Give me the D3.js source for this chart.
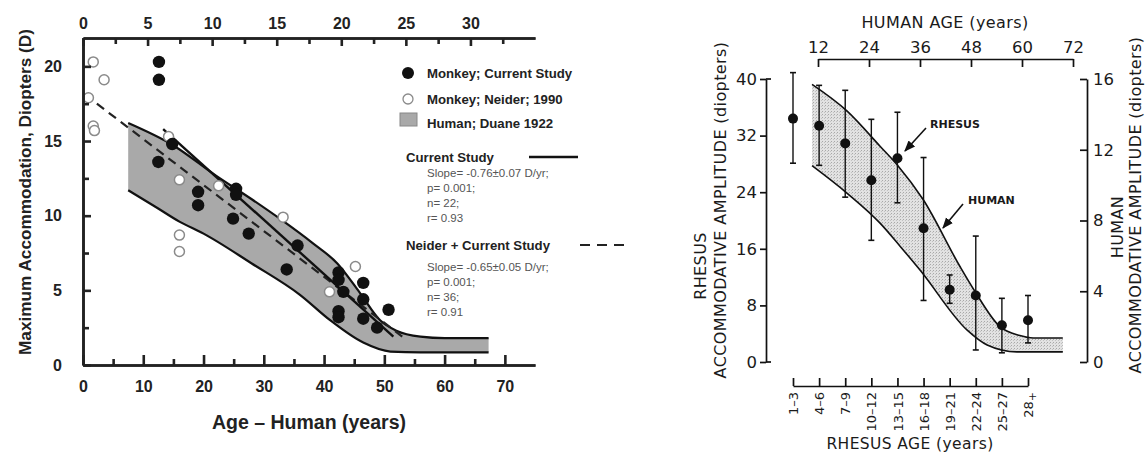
<!DOCTYPE html>
<html>
<head>
<meta charset="utf-8">
<script src="https://cdn.jsdelivr.net/npm/d3@7"></script>
<style>
  body { margin: 0; background: #fff; }
  svg { display: block; }
  .lp text { font-family: "Liberation Sans", Arial, sans-serif; fill: #222; }
  .rp text { font-family: "DejaVu Sans", sans-serif; fill: #1a1a1a; }
</style>
</head>
<body>
<svg id="chart" width="1147" height="455"></svg>
<script>
// ---- left panel data (x = human-equivalent age, years) ----
const currentAge = [12.6, 12.6, 14.8, 12.5, 19.1, 19.1, 25.4, 25.4, 24.9, 27.5, 33.8, 35.6,
                    42.4, 42.4, 43.2, 46.5, 46.5, 42.4, 42.4, 46.5, 48.8, 50.7];
const currentAmp = [20.3, 19.1, 14.8, 13.6, 11.6, 10.7, 11.8, 11.4, 9.8, 8.8, 6.4, 8.0,
                    6.2, 5.7, 4.9, 5.5, 4.4, 3.6, 3.2, 3.1, 2.5, 3.7];
const neiderAge = [1.7, 3.5, 0.9, 1.7, 1.9, 14.2, 16.0, 22.5, 33.2, 16.0, 16.0, 45.2, 40.9];
const neiderAmp = [20.3, 19.1, 17.9, 16.0, 15.7, 15.3, 12.4, 12.0, 9.9, 8.7, 7.6, 6.6, 4.9];

const duaneUpperAge = [7.5, 15, 22, 28, 33, 38, 42.2, 46, 49.3, 52, 56, 60, 67.3];
const duaneUpperAmp = [16.2, 14.7, 12.7, 11.1, 9.7, 8.2, 6.8, 4.8, 3.0, 2.3, 1.9, 1.8, 1.8];
const duaneLowerAge = [7.5, 12, 16, 20, 28, 36, 41, 46.5, 51, 56, 67.3];
const duaneLowerAmp = [11.7, 10.6, 9.6, 8.8, 6.8, 4.7, 3.0, 1.5, 0.9, 0.85, 0.85];

const fitCurrentAge = [13.3, 51.5];
const fitCurrentAmp = [15.8, 1.9];
const fitPooledAge = [2.3, 53];
const fitPooledAmp = [17.5, 1.9];

const humanAgeTicksL = [0, 10, 20, 30, 40, 50, 60, 70];
const monkeyAgeTicksL = [0, 5, 10, 15, 20, 25, 30];
const ampTicksL = [0, 5, 10, 15, 20];

const legendItems = ["Monkey; Current Study", "Monkey; Neider; 1990", "Human; Duane 1922"];
const statsCurrent = ["Slope= -0.76\u00b10.07 D/yr;", "p= 0.001;", "n= 22;", "r= 0.93"];
const statsPooled = ["Slope= -0.65\u00b10.05 D/yr;", "p= 0.001;", "n= 36;", "r= 0.91"];

// ---- right panel data ----
const rhesusGroups = ["1\u20133", "4\u20136", "7\u20139", "10\u201312", "13\u201315", "16\u201318",
                      "19\u201321", "22\u201324", "25\u201327", "28"];
const rhesusMean = [34.4, 33.4, 30.9, 25.7, 28.8, 18.9, 10.2, 9.4, 5.2, 5.9];
const rhesusHigh = [40.9, 39.1, 38.4, 34.3, 35.3, 28.9, 12.3, 17.8, 9.0, 9.4];
const rhesusLow = [28.1, 27.8, 23.3, 17.2, 22.5, 8.7, 8.3, 1.7, 1.3, 2.7];

const humanUpperAge = [10.6, 18.8, 26.6, 30.8, 36.7, 45.4, 48.9, 54.8, 59.5, 62.6, 69.6];
const humanUpperAmp = [15.7, 14.2, 12.2, 11.1, 9.2, 5.4, 4.0, 2.0, 1.5, 1.36, 1.36];
const humanLowerAge = [10.6, 18.8, 26.6, 31.3, 36.0, 47.1, 51.8, 58.8, 69.6];
const humanLowerAmp = [11.1, 9.55, 7.85, 6.55, 5.2, 1.8, 0.96, 0.57, 0.57];

const humanAgeTicksR = [12, 24, 36, 48, 60, 72];
const rhesusAmpTicks = [0, 8, 16, 24, 32, 40];
const humanAmpTicks = [0, 4, 8, 12, 16];

const svg = d3.select("#chart");
svg.append("rect").attr("width", 1147).attr("height", 455).attr("fill", "#fff");

function bandPath(line, up, low) {
  const a = line(up);
  const b = line(low.slice().reverse()).replace(/^M/, "L");
  return a + b + "Z";
}

// ================= LEFT PANEL =================
const L = svg.append("g").attr("class", "lp");
const x = d3.scaleLinear().domain([0, 75]).range([83, 535]);
const xTop = d3.scaleLinear().domain([0, 35]).range([83, 535]);
const y = d3.scaleLinear().domain([0, 21.9]).range([365, 38]);

// Duane band
const lineL = d3.line().x(d => x(d[0])).y(d => y(d[1])).curve(d3.curveMonotoneX);
const up = duaneUpperAge.map((a, i) => [a, duaneUpperAmp[i]]);
const low = duaneLowerAge.map((a, i) => [a, duaneLowerAmp[i]]);
L.append("path").attr("d", bandPath(lineL, up, low)).attr("fill", "#a9a9a9");
L.append("path").attr("d", lineL(up)).attr("fill", "none").attr("stroke", "#111").attr("stroke-width", 2.2);
L.append("path").attr("d", lineL(low)).attr("fill", "none").attr("stroke", "#111").attr("stroke-width", 2.2);

// fits
const straight = d3.line().x(d => x(d[0])).y(d => y(d[1]));
L.append("path").attr("d", straight(fitPooledAge.map((a, i) => [a, fitPooledAmp[i]])))
  .attr("stroke", "#222").attr("stroke-width", 2.2).attr("stroke-dasharray", "9,6").attr("fill", "none");
L.append("path").attr("d", straight(fitCurrentAge.map((a, i) => [a, fitCurrentAmp[i]])))
  .attr("stroke", "#111").attr("stroke-width", 2.4).attr("fill", "none");

// points
L.selectAll("circle.nd").data(neiderAge).join("circle").attr("class", "nd")
  .attr("cx", d => x(d)).attr("cy", (d, i) => y(neiderAmp[i])).attr("r", 5)
  .attr("fill", "#fff").attr("stroke", "#8a8a8a").attr("stroke-width", 1.5);
L.selectAll("circle.cs").data(currentAge).join("circle").attr("class", "cs")
  .attr("cx", d => x(d)).attr("cy", (d, i) => y(currentAmp[i])).attr("r", 6.2)
  .attr("fill", "#111");

// axes
const axL = L.append("g").attr("transform", "translate(83,0)")
  .call(d3.axisLeft(y).tickValues(ampTicksL).tickSize(-8).tickSizeOuter(0).tickPadding(21));
axL.append("g").call(d3.axisLeft(y).tickValues([2.5, 7.5, 12.5, 17.5]).tickSize(-6).tickSizeOuter(0).tickFormat(""));
const axB = L.append("g").attr("transform", "translate(0,365)")
  .call(d3.axisBottom(x).tickValues(humanAgeTicksL).tickSize(-10).tickSizeOuter(0).tickPadding(16));
axB.append("g").call(d3.axisBottom(x).tickValues([5, 15, 25, 35, 45, 55, 65]).tickSize(-6).tickSizeOuter(0).tickFormat(""));
const axT = L.append("g").attr("transform", "translate(0,38)")
  .call(d3.axisTop(xTop).tickValues(monkeyAgeTicksL).tickSize(-8).tickSizeOuter(0).tickPadding(9));
axT.append("g").call(d3.axisTop(xTop).tickValues([2.5, 7.5, 12.5, 17.5, 22.5, 27.5, 32.5]).tickSize(-6).tickSizeOuter(0).tickFormat(""));
[axL, axB, axT].forEach(g => {
  g.selectAll("path.domain, line").attr("stroke", "#222").attr("stroke-width", 2.6);
  g.selectAll("text").attr("font-size", 16).attr("font-weight", "bold").attr("fill", "#333");
});

// titles
L.append("text").attr("transform", "translate(31,192) rotate(-90)").attr("text-anchor", "middle")
  .attr("font-size", 17.2).attr("font-weight", "bold").text("Maximum Accommodation, Diopters (D)");
L.append("text").attr("x", 309).attr("y", 429).attr("text-anchor", "middle")
  .attr("font-size", 19.5).attr("font-weight", "bold").text("Age \u2013 Human (years)");

// legend
L.append("circle").attr("cx", 408).attr("cy", 73).attr("r", 6).attr("fill", "#111");
L.append("circle").attr("cx", 408).attr("cy", 99).attr("r", 5).attr("fill", "#fff").attr("stroke", "#8a8a8a").attr("stroke-width", 1.3);
L.append("rect").attr("x", 400).attr("y", 113).attr("width", 17).attr("height", 13).attr("fill", "#a9a9a9").attr("stroke", "#888");
L.selectAll("text.lg").data(legendItems).join("text").attr("class", "lg")
  .attr("x", 427).attr("y", (d, i) => [78, 104, 128][i]).attr("font-size", 13.2).attr("font-weight", "bold").text(d => d);

L.append("text").attr("x", 406).attr("y", 162).attr("font-size", 13.2).attr("font-weight", "bold").text("Current Study");
L.append("line").attr("x1", 529).attr("x2", 578).attr("y1", 157).attr("y2", 157).attr("stroke", "#111").attr("stroke-width", 2.4);
L.selectAll("text.s1").data(statsCurrent).join("text").attr("class", "s1")
  .attr("x", 427).attr("y", (d, i) => 177 + i * 15).attr("font-size", 11.5).style("fill", "#555").text(d => d);

L.append("text").attr("x", 406).attr("y", 250).attr("font-size", 13.2).attr("font-weight", "bold").text("Neider + Current Study");
L.append("line").attr("x1", 580).attr("x2", 630).attr("y1", 245).attr("y2", 245).attr("stroke", "#222")
  .attr("stroke-width", 2.2).attr("stroke-dasharray", "10,7");
L.selectAll("text.s2").data(statsPooled).join("text").attr("class", "s2")
  .attr("x", 427).attr("y", (d, i) => 271 + i * 15).attr("font-size", 11.5).style("fill", "#555").text(d => d);

// ================= RIGHT PANEL =================
const R = svg.append("g").attr("class", "rp");
const xr = d3.scalePoint().domain(rhesusGroups).range([793, 1028]);
const xh = d3.scaleLinear().domain([12, 72]).range([818, 1073]);
const yr = d3.scaleLinear().domain([0, 40]).range([362, 79]);
const yh = d3.scaleLinear().domain([0, 16]).range([362, 79]);

// stipple pattern
const defs = svg.append("defs");
const pat = defs.append("pattern").attr("id", "stip").attr("patternUnits", "userSpaceOnUse")
  .attr("width", 3).attr("height", 3);
pat.append("rect").attr("width", 3).attr("height", 3).attr("fill", "#e2e2e2");
pat.append("rect").attr("width", 1).attr("height", 1).attr("fill", "#a8a8a8");
pat.append("rect").attr("x", 2).attr("y", 1).attr("width", 1).attr("height", 1).attr("fill", "#c2c2c2");

const lineR = d3.line().x(d => xh(d[0])).y(d => yh(d[1])).curve(d3.curveMonotoneX);
const hu = humanUpperAge.map((a, i) => [a, humanUpperAmp[i]]);
const hl = humanLowerAge.map((a, i) => [a, humanLowerAmp[i]]);
R.append("path").attr("d", bandPath(lineR, hu, hl)).attr("fill", "url(#stip)");
R.append("path").attr("d", lineR(hu)).attr("fill", "none").attr("stroke", "#111").attr("stroke-width", 1.6);
R.append("path").attr("d", lineR(hl)).attr("fill", "none").attr("stroke", "#111").attr("stroke-width", 1.6);

// error bars and means
const eb = R.selectAll("g.eb").data(rhesusGroups).join("g").attr("class", "eb");
eb.append("line").attr("x1", d => xr(d)).attr("x2", d => xr(d))
  .attr("y1", (d, i) => yr(rhesusHigh[i])).attr("y2", (d, i) => yr(rhesusLow[i]))
  .attr("stroke", "#111").attr("stroke-width", 1.4);
eb.append("line").attr("x1", d => xr(d) - 3).attr("x2", d => xr(d) + 3)
  .attr("y1", (d, i) => yr(rhesusHigh[i])).attr("y2", (d, i) => yr(rhesusHigh[i]))
  .attr("stroke", "#111").attr("stroke-width", 1.6);
eb.append("line").attr("x1", d => xr(d) - 3).attr("x2", d => xr(d) + 3)
  .attr("y1", (d, i) => yr(rhesusLow[i])).attr("y2", (d, i) => yr(rhesusLow[i]))
  .attr("stroke", "#111").attr("stroke-width", 1.6);
eb.append("circle").attr("cx", d => xr(d)).attr("cy", (d, i) => yr(rhesusMean[i])).attr("r", 5).attr("fill", "#111");

// axes
const rax = [];
rax.push(R.append("g").attr("transform", "translate(766,0)")
  .call(d3.axisLeft(yr).tickValues(rhesusAmpTicks).tickSize(6).tickSizeOuter(0).tickPadding(3)));
rax.push(R.append("g").attr("transform", "translate(1087,0)")
  .call(d3.axisRight(yh).tickValues(humanAmpTicks).tickSize(-7).tickSizeOuter(0).tickPadding(6)));
rax.push(R.append("g").attr("transform", "translate(0,59)")
  .call(d3.axisTop(xh).tickValues(humanAgeTicksR).tickSize(-8).tickSizeOuter(0).tickPadding(6)));
const bax = R.append("g").attr("transform", "translate(0,386)")
  .call(d3.axisBottom(xr).tickSize(-8).tickSizeOuter(0).tickPadding(6));
rax.push(bax);
rax.forEach(g => {
  g.selectAll("path.domain, line").attr("stroke", "#111").attr("stroke-width", 1.7);
  g.selectAll("text").attr("font-size", 16.5).attr("fill", "#1a1a1a");
});
// end ticks of the left rhesus axis cross to the right
R.selectAll("line.endtick").data([0, 40]).join("line").attr("class", "endtick")
  .attr("x1", 766).attr("x2", 771).attr("y1", d => yr(d)).attr("y2", d => yr(d))
  .attr("stroke", "#111").attr("stroke-width", 1.7);
bax.selectAll("text").attr("font-size", 13).attr("text-anchor", "end")
  .attr("transform", "rotate(-90)").attr("x", -6).attr("y", 0).attr("dy", "0.35em");
bax.selectAll(".tick").filter(d => d === "28").select("text")
  .append("tspan").attr("dy", "0.25em").attr("font-size", 11).text("+");

// titles
R.append("text").attr("x", 945).attr("y", 28).attr("text-anchor", "middle").attr("font-size", 16)
  .attr("letter-spacing", 0.4).text("HUMAN AGE (years)");
R.append("text").attr("x", 910).attr("y", 449).attr("text-anchor", "middle").attr("font-size", 15.5)
  .attr("letter-spacing", 0.4).text("RHESUS AGE (years)");
R.append("text").attr("transform", "translate(706,266) rotate(-90)").attr("text-anchor", "middle")
  .attr("font-size", 16).attr("letter-spacing", 0.4).text("RHESUS");
R.append("text").attr("transform", "translate(726,210) rotate(-90)").attr("text-anchor", "middle")
  .attr("font-size", 16).attr("letter-spacing", 0.4).text("ACCOMMODATIVE AMPLITUDE (diopters)");
R.append("text").attr("transform", "translate(1123,227) rotate(-90)").attr("text-anchor", "middle")
  .attr("font-size", 16).attr("letter-spacing", 0.4).text("HUMAN");
R.append("text").attr("transform", "translate(1141,205) rotate(-90)").attr("text-anchor", "middle")
  .attr("font-size", 16).attr("letter-spacing", 0.4).text("ACCOMMODATIVE AMPLITUDE (diopters)");

// arrows with labels
defs.append("marker").attr("id", "ah").attr("viewBox", "0 0 10 10").attr("refX", 9).attr("refY", 5)
  .attr("markerWidth", 7).attr("markerHeight", 7).attr("orient", "auto")
  .append("path").attr("d", "M0,1 L10,5 L0,9 Z").attr("fill", "#111");
R.append("line").attr("x1", 926).attr("y1", 128).attr("x2", 905).attr("y2", 151)
  .attr("stroke", "#111").attr("stroke-width", 1.6).attr("marker-end", "url(#ah)");
R.append("text").attr("x", 930).attr("y", 128).attr("font-size", 11).attr("font-weight", "bold").text("RHESUS");
R.append("line").attr("x1", 963).attr("y1", 204).attr("x2", 943).attr("y2", 228)
  .attr("stroke", "#111").attr("stroke-width", 1.6).attr("marker-end", "url(#ah)");
R.append("text").attr("x", 968).attr("y", 204).attr("font-size", 11).attr("font-weight", "bold").text("HUMAN");
</script>
</body>
</html>
